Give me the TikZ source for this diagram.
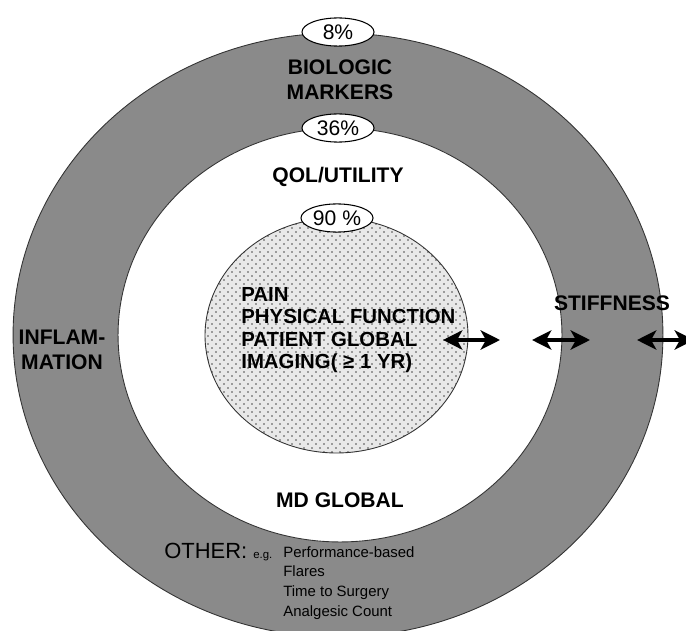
\documentclass[tikz,border=0pt]{standalone}
\usepackage{fontspec}
\setmainfont{Liberation Sans}
\usepackage{tikz}
\usetikzlibrary{shapes,arrows,positioning,calc,arrows.meta}

\definecolor{ringgray}{RGB}{138,138,138}
\definecolor{coregray}{RGB}{232,232,232}
\tikzset{
    pct/.style={ellipse, draw, fill=white, line width=0.6pt, minimum width=41pt, minimum height=16pt, inner sep=0pt, font=\fontsize{12}{14}\selectfont},
    lbl/.style={font=\bfseries\fontsize{12}{14.5}\selectfont, align=center, inner sep=0pt},
    twoway/.style={{Stealth[length=11pt,width=11pt,inset=3pt]}-{Stealth[length=11pt,width=11pt,inset=3pt]}, line width=2pt}
}

\begin{document}
\begin{tikzpicture}[x=0.02cm,y=-0.02cm]
    \useasboundingbox (0,0) rectangle (686,631);
    \clip (0,0) rectangle (686,631);

    % Outer ring and white band
    \draw[fill=ringgray, draw=black!80, line width=0.5pt] (338,335) ellipse [x radius=6.5cm, y radius=6.04cm];
    \draw[fill=white, draw=black!80, line width=0.5pt] (340,335) ellipse [x radius=4.44cm, y radius=4.14cm];

    % Dotted core
    \fill[coregray] (336.5,335.5) ellipse [x radius=2.63cm, y radius=2.35cm];
    \begin{scope}
        \clip (336.5,335.5) ellipse [x radius=2.63cm, y radius=2.35cm];
        \foreach \r in {0,...,60}
            \foreach \c in {0,...,34}
                \fill[black!70] ({200+\c*8+mod(\r,2)*4},{216+\r*4}) circle (0.55pt);
    \end{scope}
    \draw[black!80, line width=0.5pt] (336.5,335.5) ellipse [x radius=2.63cm, y radius=2.35cm];

    % Percentages
    \node[pct] (p8) at (338,32) {8\%};
    \node[pct] (p36) at (338,128) {36\%};
    \node[pct] (p90) at (337,218) {90 \%};

    % Domain labels
    \node[lbl] (bio) at (340,80) {BIOLOGIC\\MARKERS};
    \node[lbl] (qol) at (338,177) {QOL/UTILITY};
    \node[lbl, align=left, anchor=west, font=\bfseries\fontsize{11.6}{12.8}\selectfont] (core) at (241,330)
        {PAIN\\PHYSICAL FUNCTION\\PATIENT GLOBAL\\IMAGING( ≥ 1 YR)};
    \node[lbl] (infl) at (62,350) {INFLAM-\\MATION};
    \node[lbl] (stiff) at (612,303) {STIFFNESS};
    \node[lbl] (mdg) at (340,500) {MD GLOBAL};

    % Other outcomes
    \node[font=\fontsize{12.5}{14}\selectfont, anchor=base west, inner sep=0pt] (other) at (164,558) {OTHER:};
    \node[font=\fontsize{6.5}{8}\selectfont, anchor=base west, inner sep=0pt] (eg) at ([xshift=3pt]other.base east) {e.g.};
    \node[font=\fontsize{8.5}{11.3}\selectfont, align=left, anchor=west, inner sep=0pt] (list) at (283,583)
        {Performance-based\\Flares\\Time to Surgery\\Analgesic Count};

    % Arrows
    \coordinate (a1l) at (443,340);
    \coordinate (a1r) at (500,340);
    \coordinate (a2l) at (532,340);
    \coordinate (a2r) at (590,340);
    \coordinate (a3l) at (637,340);
    \coordinate (a3r) at (694,340);
    \draw[twoway] (a1l) -- (a1r);
    \draw[twoway] (a2l) -- (a2r);
    \draw[twoway] (a3l) -- (a3r);
\end{tikzpicture}
\end{document}
